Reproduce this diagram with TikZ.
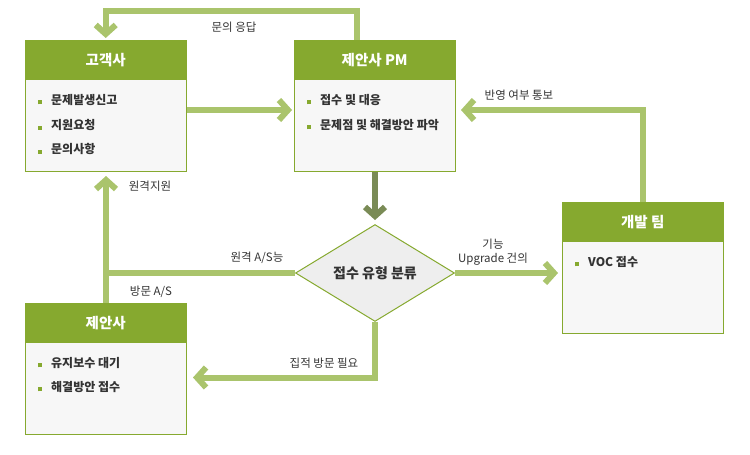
\documentclass[tikz,border=0pt]{standalone}
\usepackage{fontspec}
\setmainfont{Noto Sans CJK KR}
\usepackage{xcolor}
\usetikzlibrary{
    arrows.meta,
    shapes.geometric,
    positioning,
    calc
}
\definecolor{hdrgreen}{HTML}{86A92F}
\definecolor{flowgreen}{HTML}{AAC46C}
\definecolor{flowdark}{HTML}{7A8B56}
\definecolor{boxgray}{HTML}{F7F7F7}
\definecolor{diagray}{HTML}{EEEEEE}
\definecolor{txtdark}{HTML}{333333}
\newcommand{\bsq}{\textcolor{hdrgreen}{\rule{4pt}{4pt}}\hspace{9pt}}
\tikzset{boxb/.style={draw=hdrgreen, fill=boxgray, line width=1pt, minimum width=161pt, minimum height=131pt, inner sep=0pt, anchor=north west}}
\tikzset{boxh/.style={fill=hdrgreen, minimum width=161pt, minimum height=40pt, inner sep=0pt, anchor=north west, text=white, font=\fontsize{14.5}{16}\selectfont\bfseries}}
\tikzset{item/.style={anchor=west, inner sep=0pt, text=txtdark, font=\fontsize{12}{14}\selectfont\bfseries}}
\tikzset{lbl/.style={inner sep=0pt, text=txtdark, font=\fontsize{11.5}{14}\selectfont}}
\tikzset{flow/.style={draw=flowgreen, line width=6pt, -{Straight Barb[length=9pt,width=20pt,sharp]}}}
\tikzset{flowline/.style={draw=flowgreen, line width=6pt}}

\begin{document}
\begin{tikzpicture}[x=1pt, y=-1pt]
    \useasboundingbox (0, 0) rectangle (750, 455);
    % boxes
    \node[boxb] (gogaekb) at (25, 40) {};
    \node[boxh] (gogaek) at (25, 40) {고객사};
    \node[boxb] (pmb) at (294, 40) {};
    \node[boxh] (pm) at (294, 40) {제안사 PM};
    \node[boxb] (devb) at (562, 202) {};
    \node[boxh] (dev) at (562, 202) {개발 팀};
    \node[boxb] (jeansab) at (25, 303) {};
    \node[boxh] (jeansa) at (25, 303) {제안사};
    \node[diamond, draw=hdrgreen, fill=diagray, line width=1pt, inner sep=0pt,
        minimum width=159pt, minimum height=90pt, text=txtdark,
        font=\fontsize{14}{16}\selectfont\bfseries] (dia) at (375, 273) {접수 유형 분류};

    % items
    \node[item] (g1) at (38, 100) {\bsq 문제발생신고};
    \node[item] (g2) at (38, 125) {\bsq 지원요청};
    \node[item] (g3) at (38, 149) {\bsq 문의사항};
    \node[item] (p1) at (307, 100) {\bsq 접수 및 대응};
    \node[item] (p2) at (307, 125) {\bsq 문제점 및 해결방안 파악};
    \node[item] (d1) at (575, 262) {\bsq VOC 접수};
    \node[item] (j1) at (38, 363) {\bsq 유지보수 대기};
    \node[item] (j2) at (38, 387) {\bsq 해결방안 접수};

    % connectors
    \draw[flow] ([xshift=-18pt]pm.north) -- ++(0, -29) -| ([yshift=2pt]gogaek.north);
    \draw[flow] ([yshift=-4pt]gogaekb.east) -- ([xshift=-2pt, yshift=-4pt]pmb.west);
    \draw[flow, draw=flowdark] (pmb.south) -- ([yshift=4pt]dia.north);
    \draw[flow] (dia.east) -- ($(dia.east -| devb.west)+(-4, 0)$);
    \draw[flow] (dev.north) |- ([xshift=5pt, yshift=-4pt]pmb.east);
    \draw[flow] (dia.west) -| ([yshift=-4pt]gogaekb.south);
    \draw[flowline] (jeansa.north) -- (jeansa.north |- dia.west);
    \draw[flow] (dia.south) |- ([xshift=6pt, yshift=-8.5pt]jeansab.east);

    % labels
    \node[lbl] (l1) at (234, 27) {문의 응답};
    \node[lbl] (l2) at (150, 186) {원격지원};
    \node[lbl] (l3) at (257, 258) {원격 A/S능};
    \node[lbl] (l4) at (151, 292) {방문 A/S};
    \node[lbl, align=center] (l5) at (493, 252) {기능\\Upgrade 건의};
    \node[lbl] (l6) at (519, 95) {반영 여부 통보};
    \node[lbl] (l7) at (324, 363) {집적 방문 필요};
\end{tikzpicture}
\end{document}
